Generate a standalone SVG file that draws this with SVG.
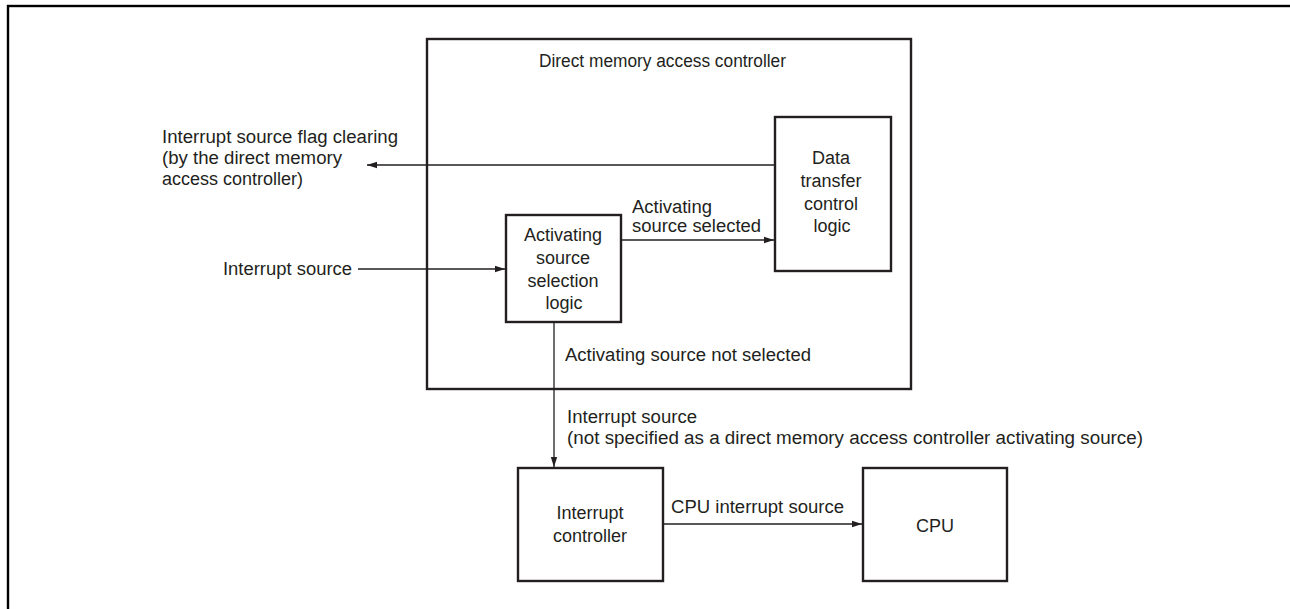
<svg xmlns="http://www.w3.org/2000/svg" width="1290" height="609" viewBox="0 0 1290 609">
<style>
text{font-family:"Liberation Sans",Arial,Helvetica,sans-serif;font-size:18px;fill:#231f20}
.box{fill:#fff;stroke:#231f20;stroke-width:2.4}
.c{text-anchor:middle}
.ln{fill:none;stroke:#231f20;stroke-width:1.3}
</style>
<defs>
<marker id="ah" viewBox="0 0 10 8" refX="10" refY="4" markerWidth="10" markerHeight="8" markerUnits="userSpaceOnUse" orient="auto">
<path d="M0,0.8 L10,4 L0,7.2 Z" fill="#231f20"/>
</marker>
</defs>
<rect width="1290" height="609" fill="#fff"/>
<rect x="8" y="6" width="1320" height="640" fill="none" stroke="#000" stroke-width="2.4"/>

<g id="dmac">
<rect class="box" x="427" y="39" width="484" height="350"/>
<text x="539" y="67" textLength="247" lengthAdjust="spacingAndGlyphs">Direct memory access controller</text>
</g>

<g id="data-transfer">
<rect class="box" x="775" y="117" width="116" height="154"/>
<text class="c" x="831" y="164">Data</text>
<text class="c" x="831" y="187">transfer</text>
<text class="c" x="831" y="210">control</text>
<text class="c" x="832" y="232">logic</text>
</g>

<g id="selection-logic">
<rect class="box" x="506" y="215" width="115" height="107"/>
<text class="c" x="563" y="241">Activating</text>
<text class="c" x="563" y="264">source</text>
<text class="c" x="563" y="287">selection</text>
<text class="c" x="564" y="309">logic</text>
</g>

<g id="interrupt-controller">
<rect class="box" x="518" y="468" width="145" height="113"/>
<text class="c" x="590" y="519">Interrupt</text>
<text class="c" x="590" y="542">controller</text>
</g>

<g id="cpu">
<rect class="box" x="863" y="468" width="144" height="113"/>
<text class="c" x="935" y="532">CPU</text>
</g>

<g id="connectors">
<line class="ln" x1="775" y1="165" x2="367" y2="165" marker-end="url(#ah)"/>
<line class="ln" x1="358" y1="269" x2="505" y2="269" marker-end="url(#ah)"/>
<line class="ln" x1="621" y1="240" x2="774" y2="240" marker-end="url(#ah)"/>
<line class="ln" x1="554" y1="322" x2="554" y2="467" marker-end="url(#ah)"/>
<line class="ln" x1="663" y1="524" x2="862" y2="524" marker-end="url(#ah)"/>
</g>

<g id="labels">
<text x="162" y="143" textLength="236" lengthAdjust="spacingAndGlyphs">Interrupt source flag clearing</text>
<text x="162" y="164" textLength="180" lengthAdjust="spacingAndGlyphs">(by the direct memory</text>
<text x="162" y="185" textLength="141" lengthAdjust="spacingAndGlyphs">access controller)</text>
<text x="223" y="275" textLength="129" lengthAdjust="spacingAndGlyphs">Interrupt source</text>
<text x="632" y="213" textLength="80" lengthAdjust="spacingAndGlyphs">Activating</text>
<text x="632" y="232" textLength="129" lengthAdjust="spacingAndGlyphs">source selected</text>
<text x="565" y="361" textLength="246" lengthAdjust="spacingAndGlyphs">Activating source not selected</text>
<text x="567" y="423" textLength="130" lengthAdjust="spacingAndGlyphs">Interrupt source</text>
<text x="567" y="444" textLength="576" lengthAdjust="spacingAndGlyphs">(not specified as a direct memory access controller activating source)</text>
<text x="671" y="513" textLength="173" lengthAdjust="spacingAndGlyphs">CPU interrupt source</text>
</g>
</svg>
